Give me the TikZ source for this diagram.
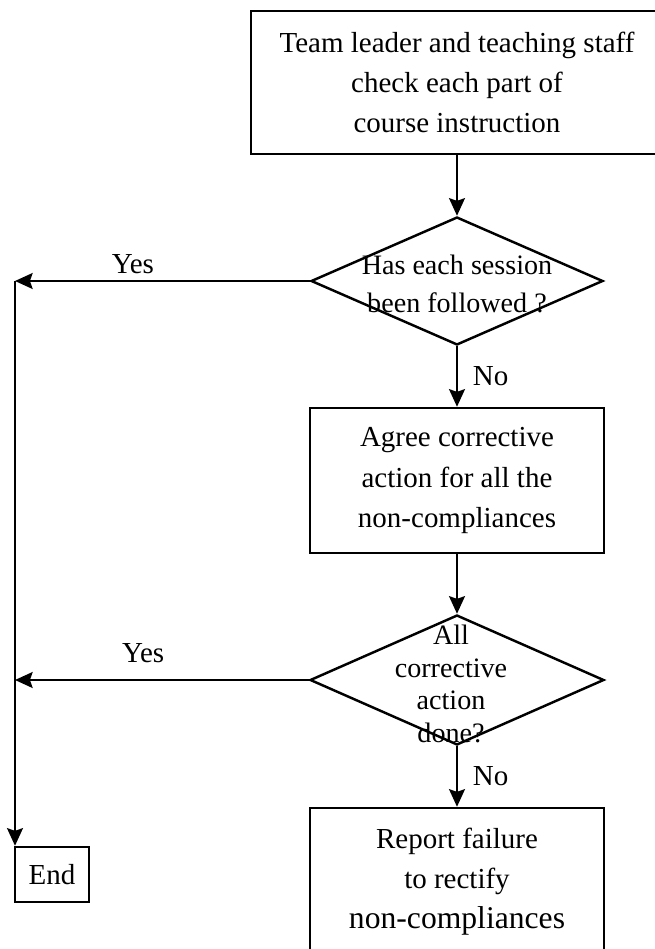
\documentclass[tikz,border=0pt]{standalone}
\usepackage{fontspec}
\setmainfont{Liberation Serif}
\usetikzlibrary{shapes.geometric,arrows.meta}

\begin{document}
\begin{tikzpicture}[x=0.02cm, y=-0.02cm, line width=1.4pt,
                    every node/.style={font=\fontsize{16.5}{22.8}\selectfont},
                    stepbox/.style={draw, rectangle, align=center, inner sep=0pt},
                    decision/.style={draw, diamond, inner sep=0pt},
                    dtext/.style={align=center, inner sep=0pt},
                    flow/.style={-{Stealth[length=10pt,width=9pt,inset=1.5pt]}}]
    \useasboundingbox (0,0) rectangle (654,949);
    \node[stepbox, minimum width=8.24cm, minimum height=2.86cm] (check) at (457,82.5)
        {Team leader and teaching staff\\check each part of\\course instruction};
    \node[decision, minimum width=5.84cm, minimum height=2.56cm,
          label={[dtext, yshift=-0.06cm, font=\fontsize{16}{21.6}\selectfont]center:Has each session\\been followed ?}] (followed) at (457,281) {};
    \node[stepbox, minimum width=5.88cm, minimum height=2.9cm] (agree) at (457,480.5)
        {Agree corrective\\action for all the\\non-compliances};
    \node[decision, minimum width=5.88cm, minimum height=2.6cm,
          label={[dtext, xshift=-0.12cm, yshift=-0.08cm, font=\fontsize{16}{18.6}\selectfont]center:All\\corrective\\action\\done?}] (done) at (457,680) {};
    \node[stepbox, minimum width=5.88cm, minimum height=2.94cm] (report) at (457,881.5)
        {Report failure\\to rectify\\{\fontsize{18}{22.8}\selectfont non-compliances}};
    \node[stepbox, minimum width=1.48cm, minimum height=1.1cm] (end) at (52,874.5) {End};
    \coordinate (corner) at (15,281);

    \draw[flow] (check) -- (followed);
    \draw[flow] (followed.west) -- node[above, pos=0.6] {Yes} (corner);
    \draw[flow] (corner) -- (end.north -| corner);
    \draw[flow] (followed) -- node[right, xshift=5pt] {No} (agree);
    \draw[flow] (agree) -- (done);
    \draw[flow] (done.west) -- node[above, pos=0.564, yshift=0.2cm] {Yes} (done.west -| corner);
    \draw[flow] (done) -- node[right, xshift=5pt] {No} (report);
\end{tikzpicture}
\end{document}
